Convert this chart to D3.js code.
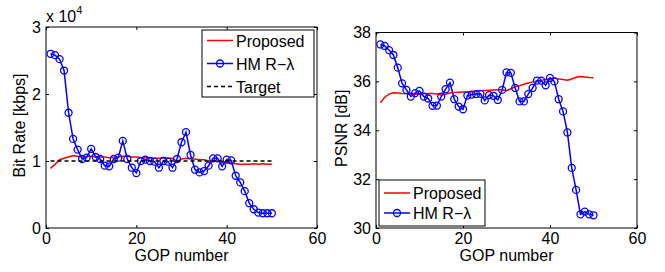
<!DOCTYPE html>
<html>
<head>
<meta charset="utf-8">
<script src="https://cdn.jsdelivr.net/npm/d3@7"></script>
<style>
  body { margin: 0; background: #fff; }
  svg text { font-family: "Liberation Sans", Arial, sans-serif; fill: #000; }
</style>
</head>
<body>
<svg id="fig" width="665" height="272"></svg>
<script>
// GOP index 1..50
const gop = d3.range(1, 51);

// left panel: bit rate (x 10^4 kbps)
const rateProposed = [0.89, 0.95, 1.02, 1.04, 1.06, 1.08, 1.07, 1.06, 1.07, 1.07,
  1.06, 1.06, 1.06, 1.05, 1.05, 1.06, 1.07, 1.07, 1.06, 1.06,
  1.05, 1.05, 1.05, 1.04, 1.04, 1.05, 1.04, 1.04, 0.99, 1.03,
  1.04, 1.03, 1.03, 1.02, 1.02, 1.00, 1.00, 1.00, 0.99, 0.98,
  0.97, 0.96, 0.95, 0.95, 0.95, 0.96, 0.95, 0.96, 0.95, 0.95];
const rateHM = [2.60, 2.58, 2.52, 2.35, 1.72, 1.33, 1.17, 1.03, 1.05, 1.18,
  1.06, 1.03, 0.93, 0.92, 1.03, 1.05, 1.30, 1.03, 0.90, 0.82,
  1.00, 1.02, 1.00, 0.99, 0.90, 1.00, 0.99, 0.90, 1.03, 1.28,
  1.43, 1.09, 0.87, 0.83, 0.85, 0.93, 1.04, 1.04, 0.92, 1.02,
  1.01, 0.78, 0.68, 0.55, 0.37, 0.28, 0.23, 0.22, 0.22, 0.22];
const rateTarget = [1.0, 1.0];
const targetGop = [1, 50];

// right panel: PSNR (dB)
const psnrProposed = [35.12, 35.35, 35.48, 35.53, 35.52, 35.50, 35.49, 35.48, 35.47, 35.48,
  35.49, 35.50, 35.50, 35.48, 35.44, 35.47, 35.52, 35.55, 35.56, 35.57,
  35.57, 35.58, 35.60, 35.62, 35.63, 35.64, 35.65, 35.66, 35.66, 35.62,
  35.70, 35.78, 35.82, 35.88, 35.93, 35.98, 36.02, 36.05, 36.08, 36.12,
  36.14, 36.10, 36.08, 36.05, 36.10, 36.17, 36.20, 36.18, 36.16, 36.15];
const psnrHM = [37.51, 37.45, 37.28, 37.08, 36.56, 35.92, 35.65, 35.38, 35.52, 35.61,
  35.38, 35.30, 35.00, 35.01, 35.38, 35.68, 35.95, 35.27, 34.97, 34.86,
  35.42, 35.46, 35.48, 35.49, 35.22, 35.44, 35.41, 35.24, 35.65, 36.37,
  36.35, 35.73, 35.18, 35.18, 35.48, 35.73, 36.03, 36.03, 35.84, 36.14,
  36.00, 35.27, 34.77, 33.91, 32.46, 31.56, 30.56, 30.67, 30.56, 30.52];

const xTicks = [0, 20, 40, 60];
const rateTicks = [0, 1, 2, 3];
const psnrTicks = [30, 32, 34, 36, 38];

const svg = d3.select('#fig');
const RED = '#ff0000', BLUE = '#0000ff';
const FS = '16px';

function panel(box, yDomain, yTicks, yLabel, labelX) {
  const x = d3.scaleLinear().domain([0, 60]).range([box.left, box.right]);
  const y = d3.scaleLinear().domain(yDomain).range([box.bottom, box.top]);
  const g = svg.append('g');
  const fmt = d3.format('d');

  // ticks (inward, mirrored on top/right)
  g.append('g').attr('transform', `translate(0,${box.bottom})`)
    .call(d3.axisBottom(x).tickValues(xTicks).tickFormat(fmt).tickSizeInner(-3).tickSizeOuter(0).tickPadding(5))
    .call(a => a.select('.domain').remove());
  g.append('g').attr('transform', `translate(0,${box.top})`)
    .call(d3.axisTop(x).tickValues(xTicks).tickSizeInner(-3).tickSizeOuter(0).tickFormat(''))
    .call(a => a.select('.domain').remove());
  g.append('g').attr('transform', `translate(${box.left},0)`)
    .call(d3.axisLeft(y).tickValues(yTicks).tickFormat(fmt).tickSizeInner(-3).tickSizeOuter(0).tickPadding(5))
    .call(a => a.select('.domain').remove());
  g.append('g').attr('transform', `translate(${box.right},0)`)
    .call(d3.axisRight(y).tickValues(yTicks).tickSizeInner(-3).tickSizeOuter(0).tickFormat(''))
    .call(a => a.select('.domain').remove());
  g.selectAll('.tick text').style('font-size', FS).style('font-family', '"Liberation Sans", Arial, sans-serif');
  g.selectAll('.tick line').attr('stroke', '#000');

  g.append('rect')
    .attr('x', box.left).attr('y', box.top)
    .attr('width', box.right - box.left).attr('height', box.bottom - box.top)
    .attr('fill', 'none').attr('stroke', '#000').attr('stroke-width', 1);

  g.append('text')
    .attr('x', (box.left + box.right) / 2).attr('y', 261)
    .attr('text-anchor', 'middle').style('font-size', FS)
    .text('GOP number');
  g.append('text')
    .attr('transform', `translate(${labelX},${(box.top + box.bottom) / 2 - 2}) rotate(-90)`)
    .attr('text-anchor', 'middle').style('font-size', FS)
    .text(yLabel);
  return { g, x, y };
}

function drawLine(p, xs, ys, color, dash) {
  p.g.append('path')
    .datum(d3.zip(xs, ys))
    .attr('fill', 'none').attr('stroke', color).attr('stroke-width', 1.5)
    .attr('stroke-dasharray', dash || null)
    .attr('d', d3.line().x(d => p.x(d[0])).y(d => p.y(d[1])));
}

function drawMarkers(p, xs, ys) {
  p.g.append('g').selectAll('circle')
    .data(d3.zip(xs, ys))
    .enter().append('circle')
    .attr('cx', d => p.x(d[0])).attr('cy', d => p.y(d[1]))
    .attr('r', 3.5)
    .attr('fill', 'none').attr('stroke', BLUE).attr('stroke-width', 1.3);
}

function legend(p, lx, ly, w, rowH, pad, rows) {
  const h = pad * 2 + (rows.length - 1) * rowH;
  const lg = p.g.append('g').attr('transform', `translate(${lx},${ly})`);
  lg.append('rect').attr('width', w).attr('height', h)
    .attr('fill', '#fff').attr('stroke', '#000').attr('stroke-width', 1);
  rows.forEach((r, i) => {
    const cy = pad + i * rowH;
    lg.append('line').attr('x1', 5).attr('x2', 31).attr('y1', cy).attr('y2', cy)
      .attr('stroke', r.color).attr('stroke-width', 1.5)
      .attr('stroke-dasharray', r.dash || null);
    if (r.marker) {
      lg.append('circle').attr('cx', 18).attr('cy', cy).attr('r', 3.5)
        .attr('fill', 'none').attr('stroke', r.color).attr('stroke-width', 1.3);
    }
    lg.append('text').attr('x', 34).attr('y', cy + 6)
      .style('font-size', FS).text(r.label);
  });
}

// left panel
const left = panel({ left: 46, right: 317, top: 27, bottom: 228 }, [0, 3], rateTicks, 'Bit Rate [kbps]', 25);
drawLine(left, gop, rateProposed, RED);
drawLine(left, gop, rateHM, BLUE);
drawMarkers(left, gop, rateHM);
drawLine(left, targetGop, rateTarget, '#000', '4,3');
left.g.append('text').attr('x', 46).attr('y', 22).style('font-size', FS)
  .text('x 10').append('tspan').attr('dy', -8).style('font-size', '11px').text('4');
legend(left, 202, 30, 112, 23, 10.5, [
  { label: 'Proposed', color: RED },
  { label: 'HM R\u2212\u03bb', color: BLUE, marker: true },
  { label: 'Target', color: '#000', dash: '4,3' }
]);

// right panel
const right = panel({ left: 376, right: 637, top: 32.5, bottom: 228 }, [30, 38], psnrTicks, 'PSNR [dB]', 347);
drawLine(right, gop, psnrProposed, RED);
drawLine(right, gop, psnrHM, BLUE);
drawMarkers(right, gop, psnrHM);
legend(right, 379, 180, 106, 20, 13, [
  { label: 'Proposed', color: RED },
  { label: 'HM R\u2212\u03bb', color: BLUE, marker: true }
]);
</script>
</body>
</html>
